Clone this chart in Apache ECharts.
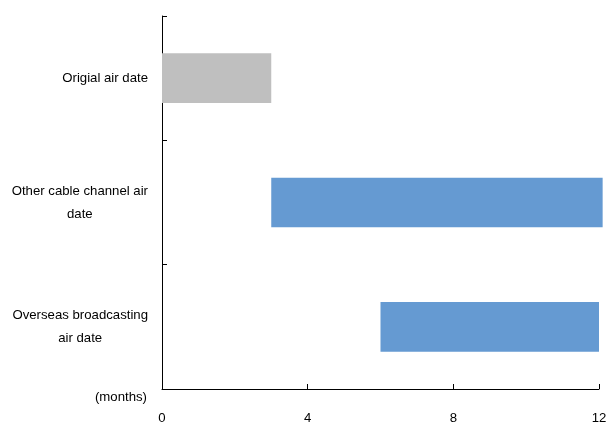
<!DOCTYPE html>
<html>
<head>
<meta charset="utf-8">
<script src="https://cdn.jsdelivr.net/npm/echarts@6/dist/echarts.min.js"></script>
<style>
html,body{margin:0;padding:0;background:#fff;}
#chart{width:609px;height:423px;}
</style>
</head>
<body>
<div id="chart"></div>
<script>
const categories = ['Origial air date', 'Other cable channel air\ndate', 'Overseas broadcasting\nair date'];
const startMonths = [0, 3, 6];
const endMonths = [3, 12.1, 12];
const barColors = ['#BFBFBF', '#659AD2', '#659AD2'];
const xTicks = [0, 4, 8, 12];

const FONT = '"Liberation Sans", Arial, sans-serif';
const FS = 13.2;
const chart = echarts.init(document.getElementById('chart'));
chart.setOption({
  animation: false,
  backgroundColor: '#fff',
  grid: { left: 162, right: 10, top: 16, bottom: 34, containLabel: false, outerBoundsMode: 'none' },
  xAxis: {
    type: 'value',
    min: xTicks[0], max: xTicks[xTicks.length - 1], interval: 4,
    name: '(months)', nameLocation: 'start', nameGap: 15,
    nameTextStyle: { fontFamily: FONT, fontSize: FS, color: '#000', align: 'right', verticalAlign: 'top', padding: [2, 0, 0, 0] },
    axisLine: { show: true, lineStyle: { color: '#000', width: 1 } },
    axisTick: { show: true, inside: true, length: 5, lineStyle: { color: '#000' } },
    axisLabel: { fontFamily: FONT, fontSize: FS, color: '#000', margin: 23 },
    splitLine: { show: false }
  },
  yAxis: {
    type: 'category', inverse: true, data: categories,
    axisLine: { show: true, lineStyle: { color: '#000', width: 1 } },
    axisTick: { show: true, inside: true, length: 5, lineStyle: { color: '#000' } },
    axisLabel: {
      fontFamily: FONT, fontSize: FS, color: '#000', margin: 14, lineHeight: 23,
      formatter: v => v.split('\n').map(l => '{c|' + l + '}').join('\n'),
      rich: { c: { align: 'center', fontFamily: FONT, fontSize: FS, color: '#000', lineHeight: 23 } }
    },
    splitLine: { show: false }
  },
  series: [
    {
      type: 'bar', stack: 'range', barWidth: '40%', silent: true,
      itemStyle: { color: 'transparent' },
      data: startMonths
    },
    {
      type: 'bar', stack: 'range', barWidth: '40%', clip: false,
      data: endMonths.map((e, i) => ({ value: e - startMonths[i], itemStyle: { color: barColors[i] } }))
    }
  ]
});
</script>
</body>
</html>
